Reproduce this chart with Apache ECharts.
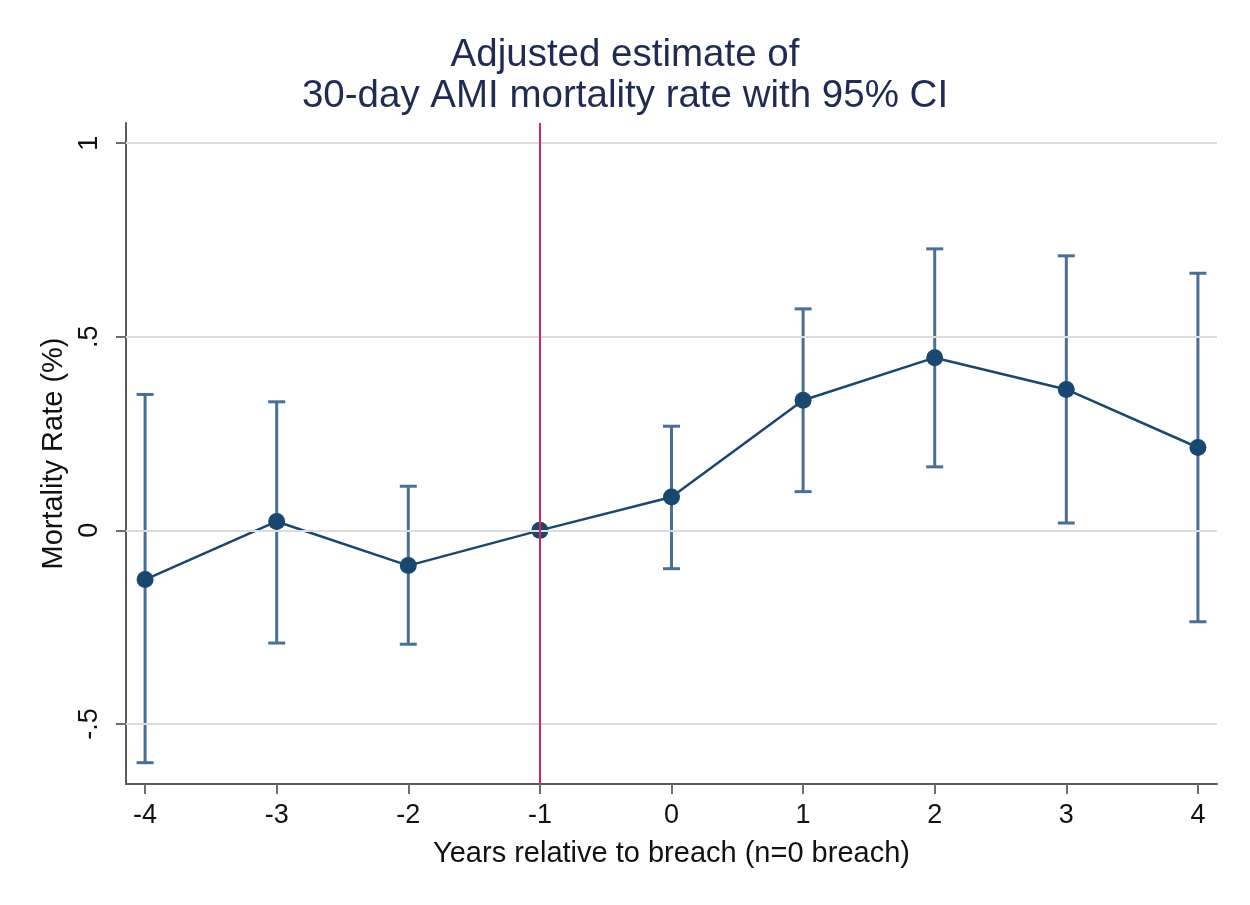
<!DOCTYPE html>
<html>
<head>
<meta charset="utf-8">
<script src="https://cdn.jsdelivr.net/npm/echarts@6/dist/echarts.min.js"></script>
<style>
html,body{margin:0;padding:0;background:#fff;}
#chart{width:1250px;height:905px;}
</style>
</head>
<body>
<div id="chart"></div>
<script>
// Years relative to breach
const years = [-4, -3, -2, -1, 0, 1, 2, 3, 4];
// Adjusted estimate (%)
const estimate = [-0.127, 0.023, -0.091, 0, 0.086, 0.336, 0.446, 0.364, 0.214];
// 95% CI lower / upper bounds
const ciLower = [-0.600, -0.291, -0.294, 0, -0.099, 0.100, 0.164, 0.019, -0.236];
const ciUpper = [0.351, 0.332, 0.114, 0, 0.269, 0.572, 0.727, 0.709, 0.664];
// Axis tick values
const xTicks = [-4, -3, -2, -1, 0, 1, 2, 3, 4];
const yTicks = [-0.5, 0, 0.5, 1];
const breachYear = -1;

const FONT = "'Liberation Sans', Arial, Helvetica, sans-serif";
const NAVY = '#1a476f';
const CI_COLOR = '#4a6f95';

const lineData = years.map((x, i) => [x, estimate[i]]);
const ciData = years.map((x, i) => [x, ciLower[i], ciUpper[i]]);

function fmtY(v) {
  let s = String(v);
  if (s.startsWith('0.')) s = s.slice(1);
  if (s.startsWith('-0.')) s = '-' + s.slice(2);
  return s;
}

const chart = echarts.init(document.getElementById('chart'), null, {renderer: 'canvas'});
chart.setOption({
  backgroundColor: '#ffffff',
  animation: false,
  title: {
    text: 'Adjusted estimate of\n30-day AMI mortality rate with 95% CI',
    left: 'center',
    top: 30,
    textStyle: {
      fontFamily: FONT,
      fontSize: 38.5,
      fontWeight: 'normal',
      color: '#1f2b52',
      lineHeight: 41
    }
  },
  grid: {left: 126, right: 33, top: 123, bottom: 121, containLabel: false},
  xAxis: {
    type: 'value',
    min: -4.145,
    max: 4.145,
    name: 'Years relative to breach (n=0 breach)',
    nameLocation: 'middle',
    nameGap: 55,
    nameTextStyle: {fontFamily: FONT, fontSize: 29, color: '#111'},
    axisLine: {show: true, onZero: false, lineStyle: {color: '#5a5a5a', width: 2}},
    axisTick: {show: true, customValues: xTicks, length: 10, lineStyle: {color: '#6d6d6d', width: 2}},
    axisLabel: {customValues: xTicks, fontFamily: FONT, fontSize: 27, color: '#111', margin: 18},
    splitLine: {show: false}
  },
  yAxis: {
    type: 'value',
    min: -0.655,
    max: 1.052,
    name: 'Mortality Rate (%)',
    nameLocation: 'middle',
    nameGap: 50,
    nameTextStyle: {fontFamily: FONT, fontSize: 29, color: '#111'},
    axisLine: {show: true, onZero: false, lineStyle: {color: '#5a5a5a', width: 2}},
    axisTick: {show: true, customValues: yTicks, length: 10, lineStyle: {color: '#6d6d6d', width: 2}},
    axisLabel: {customValues: yTicks, rotate: 90, fontFamily: FONT, fontSize: 27, color: '#111', margin: 23, formatter: fmtY},
    splitLine: {show: false}
  },
  series: [
    {
      type: 'line',
      name: 'grid',
      data: [],
      silent: true,
      z: 1,
      markLine: {
        silent: true,
        symbol: ['none', 'none'],
        label: {show: false},
        animation: false,
        lineStyle: {color: '#dcdcdc', width: 2, type: 'solid'},
        data: yTicks.map(v => ({yAxis: v}))
      }
    },
    {
      type: 'line',
      name: 'breach',
      data: [],
      silent: true,
      z: 2,
      markLine: {
        silent: true,
        symbol: ['none', 'none'],
        label: {show: false},
        animation: false,
        lineStyle: {color: '#d4285a', width: 2, type: 'solid'},
        data: [{xAxis: breachYear}]
      }
    },
    {
      type: 'custom',
      name: 'CI',
      z: 3,
      data: ciData,
      encode: {x: 0, y: [1, 2]},
      renderItem: function (params, api) {
        const x = api.value(0), lo = api.value(1), hi = api.value(2);
        if (lo === hi) return null;
        const pLo = api.coord([x, lo]);
        const pHi = api.coord([x, hi]);
        const hw = 8.5;
        const st = {stroke: CI_COLOR, lineWidth: 3};
        return {
          type: 'group',
          children: [
            {type: 'line', shape: {x1: pLo[0], y1: pLo[1], x2: pHi[0], y2: pHi[1]}, style: st},
            {type: 'line', shape: {x1: pLo[0] - hw, y1: pLo[1], x2: pLo[0] + hw, y2: pLo[1]}, style: st},
            {type: 'line', shape: {x1: pHi[0] - hw, y1: pHi[1], x2: pHi[0] + hw, y2: pHi[1]}, style: st}
          ]
        };
      }
    },
    {
      type: 'line',
      name: 'Estimate',
      z: 4,
      data: lineData,
      symbol: 'circle',
      symbolSize: 17,
      showAllSymbol: true,
      lineStyle: {color: NAVY, width: 2.5},
      itemStyle: {color: NAVY, borderWidth: 0}
    }
  ]
});
</script>
</body>
</html>
